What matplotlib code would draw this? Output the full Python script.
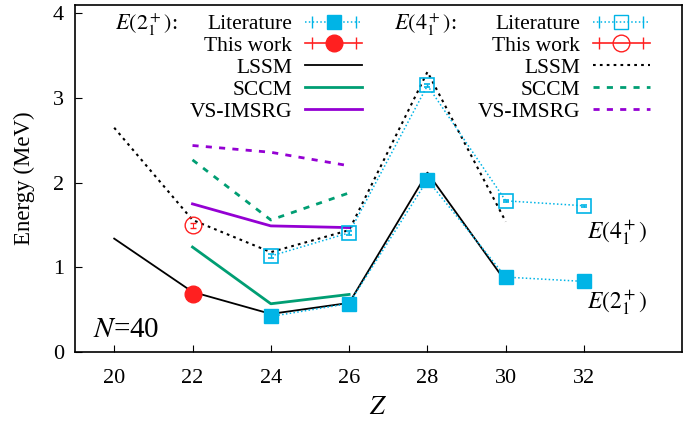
import matplotlib.pyplot as plt
from matplotlib.lines import Line2D
from matplotlib.legend_handler import HandlerLine2D, HandlerTuple

plt.rcParams['font.family'] = ['Liberation Serif', 'DejaVu Serif']
plt.rcParams['mathtext.fontset'] = 'stix'

# literature (experiment)
lit_z = [24, 26, 28, 30, 32]
lit_e2 = [0.420, 0.573, 2.033, 0.885, 0.834]
lit_e4 = [1.134, 1.408, 3.149, 1.786, 1.728]
lit_err = [0.02, 0.02, 0.02, 0.01, 0.01]

# this work (Z=22)
tw_z = [22]
tw_e2 = [0.683]
tw_e4 = [1.497]
tw_err2 = [0.01]
tw_err4 = [0.03]

# theory
lssm_z = [20, 22, 24, 26, 28, 30]
lssm_e2 = [1.34, 0.71, 0.45, 0.58, 2.12, 0.83]
lssm_e4 = [2.65, 1.56, 1.18, 1.44, 3.31, 1.54]
th_z = [22, 24, 26]
sccm_e2 = [1.24, 0.57, 0.68]
sccm_e4 = [2.27, 1.56, 1.88]
imsrg_e2 = [1.75, 1.49, 1.47]
imsrg_e4 = [2.44, 2.36, 2.20]

cyan = '#00b4e6'
red = '#ff2020'
green = '#009e73'
purple = '#9400d3'

fig = plt.figure(figsize=(6.89, 4.24), dpi=100)
ax = fig.add_axes([0.1089, 0.1698, 0.8809, 0.8184])

# theory lines
ax.plot(lssm_z, lssm_e2, color='black', lw=1.3)
ax.plot(lssm_z, lssm_e4, color='black', lw=1.5, dashes=(1.3, 2.0))
ax.plot(th_z, sccm_e2, color=green, lw=2)
ax.plot(th_z, sccm_e4, color=green, lw=2, dashes=(2.2, 2.6))
ax.plot(th_z, imsrg_e2, color=purple, lw=2)
ax.plot(th_z, imsrg_e4, color=purple, lw=2, dashes=(2.2, 2.6))

# literature
ax.plot(lit_z, lit_e2, color=cyan, lw=1.1, dashes=(1, 1.5))
ax.errorbar(lit_z, lit_e2, yerr=lit_err, fmt='s', color=cyan, ms=9.5, capsize=2, elinewidth=0.8)
ax.plot(lit_z, lit_e4, color=cyan, lw=1.1, dashes=(1, 1.5))
ax.errorbar(lit_z, lit_e4, yerr=lit_err, fmt='s', color=cyan, mfc='none', mew=1.2, ms=9.5,
            capsize=2, elinewidth=0.8)

# this work
ax.errorbar(tw_z, tw_e2, yerr=tw_err2, fmt='o', color=red, ms=12, capsize=2, elinewidth=0.8)
ax.errorbar(tw_z, tw_e4, yerr=tw_err4, fmt='o', color=red, mfc='none', mew=1.0, ms=12,
            capsize=2, elinewidth=0.8)

ax.set_xlim(19, 34.5)
ax.set_ylim(0, 4.1)
ax.set_xticks([20, 22, 24, 26, 28, 30, 32])
ax.set_yticks([0, 1, 2, 3, 4])
ax.tick_params(direction='in', length=5, labelsize=16)
ax.tick_params(axis='x', pad=12)
ax.tick_params(axis='y', pad=8)
for s in ax.spines.values():
    s.set_linewidth(1.2)
ax.set_xlabel('$Z$', fontsize=19, labelpad=7)
ax.set_ylabel('Energy (MeV)', fontsize=16.5, labelpad=13)

ax.text(19.45, 0.18, '$N$=40', fontsize=21)
ax.text(32.07, 1.41, '$E(4^+_1)$', fontsize=17, va='center')
ax.text(32.07, 0.58, '$E(2^+_1)$', fontsize=17, va='center')
ax.text(20.03, 3.87, '$E(2^+_1)$:', fontsize=16, va='center')
ax.text(27.15, 3.87, '$E(4^+_1)$:', fontsize=16, va='center')

# legend handles: line + marker in the middle, caps at both ends
hmap = {}
def entry(line, color):
    cap = Line2D([], [], color=color, lw=1.0, marker='|', ms=8, ls='none')
    hmap[line] = HandlerLine2D(numpoints=1)
    hmap[cap] = HandlerLine2D(numpoints=2)
    return (line, cap)

lit2 = entry(Line2D([], [], color=cyan, lw=1.1, dashes=(1, 1.5), marker='s', ms=9.5), cyan)
tw2 = entry(Line2D([], [], color=red, lw=1.2, marker='o', ms=12), red)
lit4 = entry(Line2D([], [], color=cyan, lw=1.1, dashes=(1, 1.5), marker='s', ms=9.5, mfc='none'), cyan)
tw4 = entry(Line2D([], [], color=red, lw=1.2, marker='o', ms=12, mfc='none'), red)
hmap[tuple] = HandlerTuple(ndivide=1, pad=0)

names = ['Literature', 'This work', 'LSSM', 'SCCM', 'VS-IMSRG']
h2 = [lit2, tw2,
      Line2D([], [], color='black', lw=1.3),
      Line2D([], [], color=green, lw=2),
      Line2D([], [], color=purple, lw=2)]
h4 = [lit4, tw4,
      Line2D([], [], color='black', lw=1.5, dashes=(1.3, 2.0)),
      Line2D([], [], color=green, lw=2, dashes=(2.2, 2.6)),
      Line2D([], [], color=purple, lw=2, dashes=(2.2, 2.6))]

leg_kw = dict(loc='upper right', frameon=False, markerfirst=False, fontsize=15.5,
              handlelength=2.65, handletextpad=0.6, labelspacing=0.085,
              borderpad=0, borderaxespad=0, handler_map=hmap)
leg1 = ax.legend(h2, names, bbox_to_anchor=(0.473, 0.974), **leg_kw)
ax.add_artist(leg1)
ax.legend(h4, names, bbox_to_anchor=(0.947, 0.974), **leg_kw)

fig.savefig('out.png', dpi=100)
